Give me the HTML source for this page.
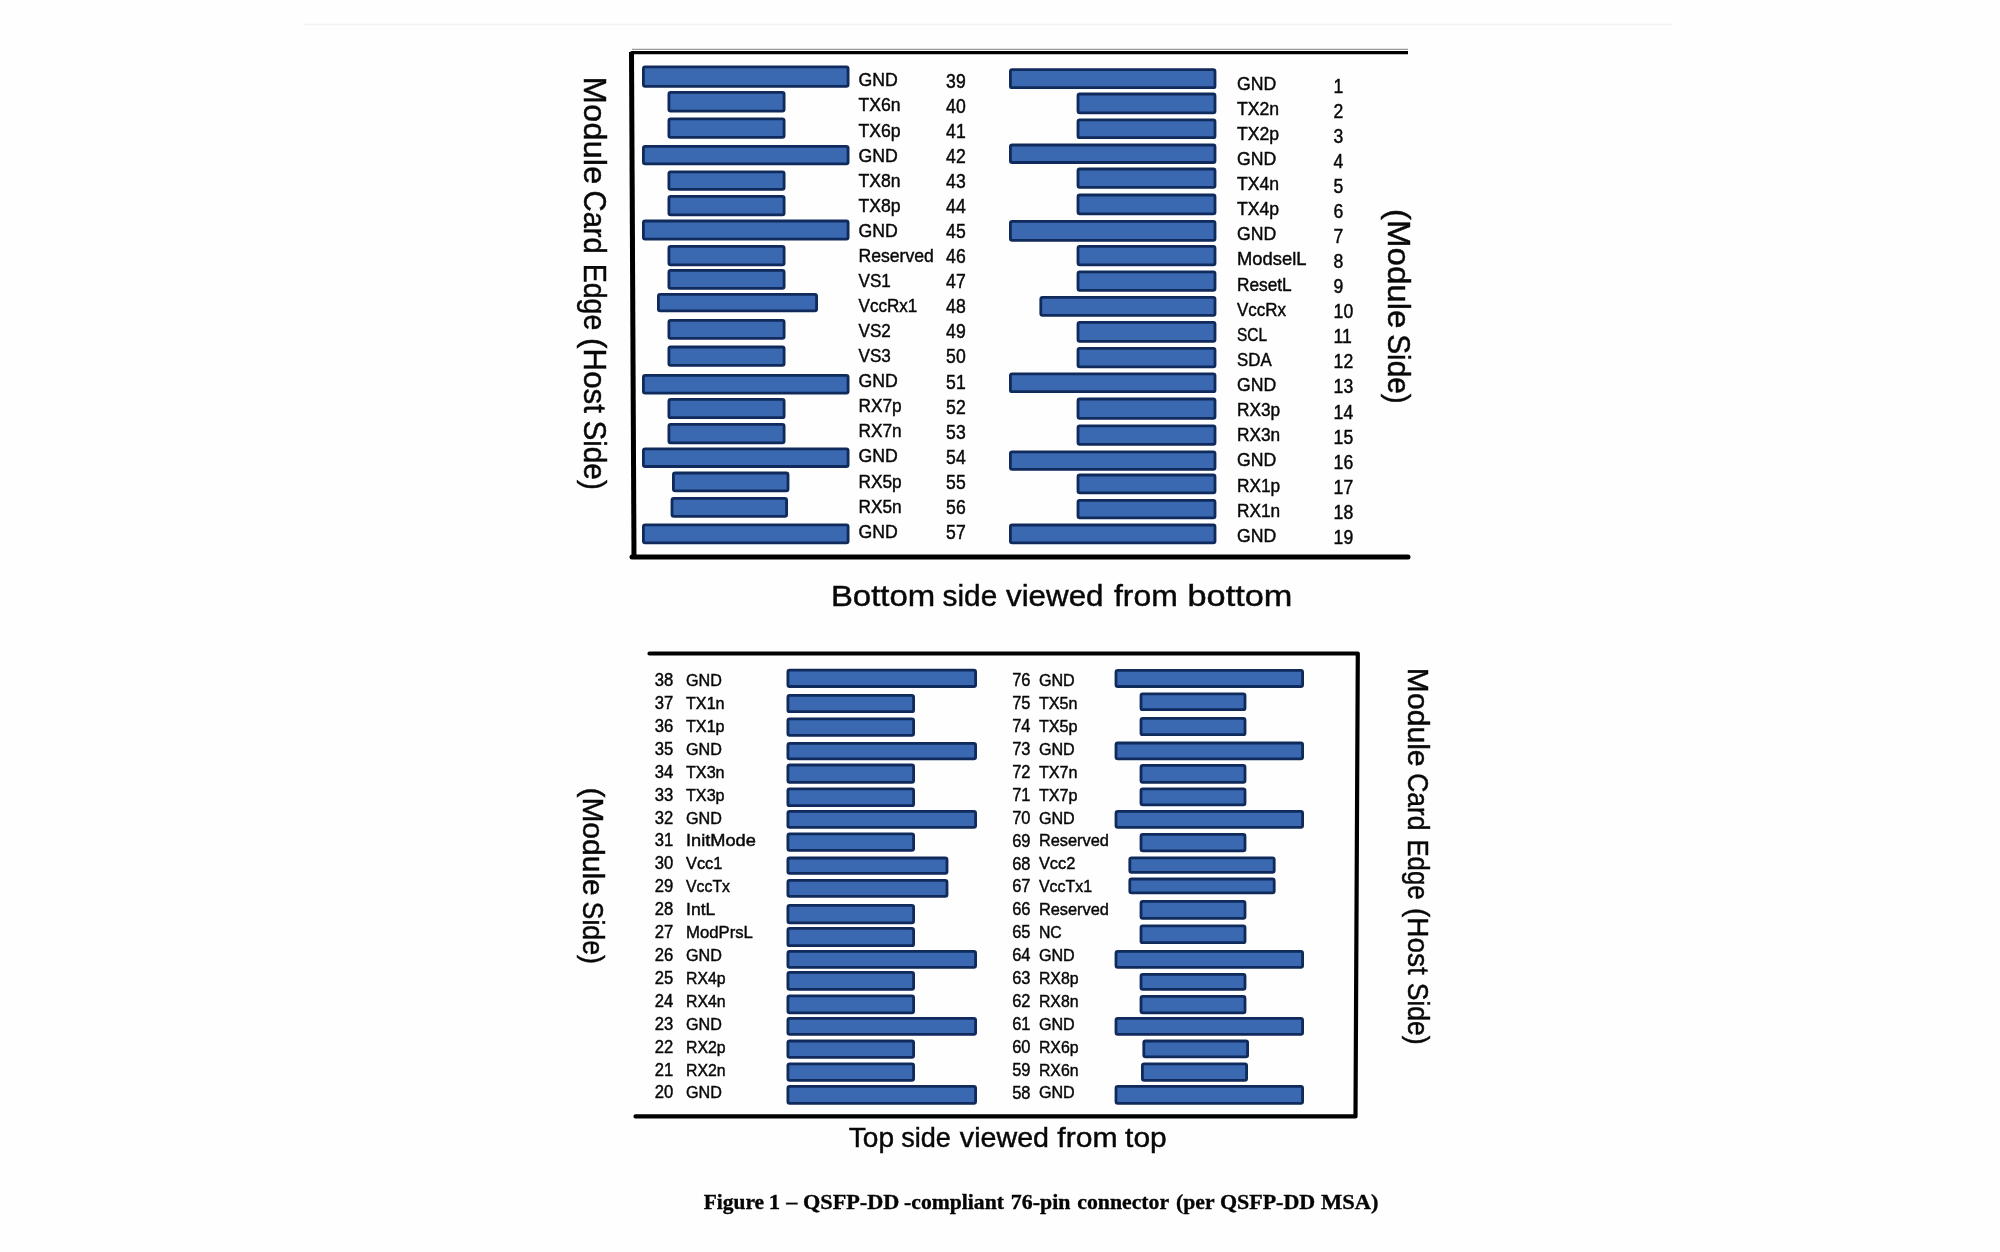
<!DOCTYPE html>
<html><head><meta charset="utf-8"><title>QSFP-DD connector</title>
<style>
html,body{margin:0;padding:0;background:#fefefe;}
body{width:2000px;height:1252px;overflow:hidden;}
svg{display:block;filter:blur(0.45px);}
.t{font-family:"Liberation Sans",sans-serif;fill:#080808;stroke:#080808;stroke-width:0.45px;}
.cap{font-family:"Liberation Serif",serif;font-weight:bold;fill:#050505;stroke:#050505;stroke-width:0.35px;}
.b{fill:#3a69b2;stroke:#0f2a5b;stroke-width:2.8;}
</style></head>
<body>
<svg width="2000" height="1252" viewBox="0 0 2000 1252">
<rect x="0" y="0" width="2000" height="1252" fill="#fefefe"/>
<line x1="304" y1="24.5" x2="1672" y2="24.5" stroke="#f4f4f4" stroke-width="1.5"/>
<rect x="643.4" y="66.9" width="204.7" height="19.4" rx="1.8" class="b"/>
<rect x="668.9" y="92.4" width="115.2" height="18.7" rx="1.8" class="b"/>
<rect x="668.9" y="118.8" width="115.2" height="18.5" rx="1.8" class="b"/>
<rect x="643.4" y="146.4" width="204.7" height="17.5" rx="1.8" class="b"/>
<rect x="668.9" y="171.8" width="115.2" height="17.5" rx="1.8" class="b"/>
<rect x="668.9" y="196.4" width="115.2" height="18.5" rx="1.8" class="b"/>
<rect x="643.4" y="221.0" width="204.7" height="18.1" rx="1.8" class="b"/>
<rect x="668.9" y="246.4" width="115.2" height="18.5" rx="1.8" class="b"/>
<rect x="668.9" y="270.4" width="115.2" height="17.9" rx="1.8" class="b"/>
<rect x="658.4" y="294.4" width="158.2" height="16.4" rx="1.8" class="b"/>
<rect x="668.9" y="320.4" width="115.2" height="17.9" rx="1.8" class="b"/>
<rect x="668.9" y="347.0" width="115.2" height="18.3" rx="1.8" class="b"/>
<rect x="643.4" y="375.4" width="204.7" height="17.7" rx="1.8" class="b"/>
<rect x="668.9" y="399.4" width="115.2" height="18.3" rx="1.8" class="b"/>
<rect x="668.9" y="424.4" width="115.2" height="18.5" rx="1.8" class="b"/>
<rect x="643.4" y="448.8" width="204.7" height="17.7" rx="1.8" class="b"/>
<rect x="673.4" y="473.0" width="114.6" height="17.9" rx="1.8" class="b"/>
<rect x="672.0" y="498.4" width="114.6" height="17.9" rx="1.8" class="b"/>
<rect x="643.4" y="524.9" width="204.7" height="17.9" rx="1.8" class="b"/>
<rect x="1010.4" y="69.6" width="204.6" height="18.1" rx="1.8" class="b"/>
<rect x="1078.0" y="94.0" width="137.0" height="18.9" rx="1.8" class="b"/>
<rect x="1078.0" y="119.8" width="137.0" height="17.9" rx="1.8" class="b"/>
<rect x="1010.4" y="145.0" width="204.6" height="17.5" rx="1.8" class="b"/>
<rect x="1078.0" y="169.0" width="137.0" height="18.3" rx="1.8" class="b"/>
<rect x="1078.0" y="195.0" width="137.0" height="18.9" rx="1.8" class="b"/>
<rect x="1010.4" y="221.4" width="204.6" height="18.9" rx="1.8" class="b"/>
<rect x="1078.0" y="246.4" width="137.0" height="18.5" rx="1.8" class="b"/>
<rect x="1078.0" y="271.8" width="137.0" height="18.5" rx="1.8" class="b"/>
<rect x="1040.8" y="297.4" width="174.2" height="17.9" rx="1.8" class="b"/>
<rect x="1078.0" y="322.4" width="137.0" height="18.9" rx="1.8" class="b"/>
<rect x="1078.0" y="348.4" width="137.0" height="18.5" rx="1.8" class="b"/>
<rect x="1010.4" y="373.8" width="204.6" height="17.9" rx="1.8" class="b"/>
<rect x="1078.0" y="399.0" width="137.0" height="19.3" rx="1.8" class="b"/>
<rect x="1078.0" y="425.8" width="137.0" height="18.5" rx="1.8" class="b"/>
<rect x="1010.4" y="451.8" width="204.6" height="17.5" rx="1.8" class="b"/>
<rect x="1078.0" y="475.0" width="137.0" height="17.9" rx="1.8" class="b"/>
<rect x="1078.0" y="500.4" width="137.0" height="17.5" rx="1.8" class="b"/>
<rect x="1010.4" y="525.0" width="204.6" height="17.9" rx="1.8" class="b"/>
<text x="858.50" y="86.40" class="t" font-size="19.0" textLength="39.29" lengthAdjust="spacingAndGlyphs">GND</text>
<text x="946.10" y="87.70" class="t" font-size="19.5" textLength="19.61" lengthAdjust="spacingAndGlyphs">39</text>
<text x="858.50" y="111.47" class="t" font-size="19.0" textLength="42.14" lengthAdjust="spacingAndGlyphs">TX6n</text>
<text x="946.10" y="112.77" class="t" font-size="19.5" textLength="19.61" lengthAdjust="spacingAndGlyphs">40</text>
<text x="858.50" y="136.54" class="t" font-size="19.0" textLength="42.14" lengthAdjust="spacingAndGlyphs">TX6p</text>
<text x="946.10" y="137.84" class="t" font-size="19.5" textLength="19.61" lengthAdjust="spacingAndGlyphs">41</text>
<text x="858.50" y="161.61" class="t" font-size="19.0" textLength="39.29" lengthAdjust="spacingAndGlyphs">GND</text>
<text x="946.10" y="162.91" class="t" font-size="19.5" textLength="19.61" lengthAdjust="spacingAndGlyphs">42</text>
<text x="858.50" y="186.68" class="t" font-size="19.0" textLength="42.14" lengthAdjust="spacingAndGlyphs">TX8n</text>
<text x="946.10" y="187.98" class="t" font-size="19.5" textLength="19.61" lengthAdjust="spacingAndGlyphs">43</text>
<text x="858.50" y="211.75" class="t" font-size="19.0" textLength="42.14" lengthAdjust="spacingAndGlyphs">TX8p</text>
<text x="946.10" y="213.05" class="t" font-size="19.5" textLength="19.61" lengthAdjust="spacingAndGlyphs">44</text>
<text x="858.50" y="236.82" class="t" font-size="19.0" textLength="39.29" lengthAdjust="spacingAndGlyphs">GND</text>
<text x="946.10" y="238.12" class="t" font-size="19.5" textLength="19.61" lengthAdjust="spacingAndGlyphs">45</text>
<text x="858.50" y="261.89" class="t" font-size="19.0" textLength="75.40" lengthAdjust="spacingAndGlyphs">Reserved</text>
<text x="946.10" y="263.19" class="t" font-size="19.5" textLength="19.61" lengthAdjust="spacingAndGlyphs">46</text>
<text x="858.50" y="286.96" class="t" font-size="19.0" textLength="32.34" lengthAdjust="spacingAndGlyphs">VS1</text>
<text x="946.10" y="288.26" class="t" font-size="19.5" textLength="19.61" lengthAdjust="spacingAndGlyphs">47</text>
<text x="858.50" y="312.03" class="t" font-size="19.0" textLength="58.79" lengthAdjust="spacingAndGlyphs">VccRx1</text>
<text x="946.10" y="313.33" class="t" font-size="19.5" textLength="19.61" lengthAdjust="spacingAndGlyphs">48</text>
<text x="858.50" y="337.10" class="t" font-size="19.0" textLength="32.34" lengthAdjust="spacingAndGlyphs">VS2</text>
<text x="946.10" y="338.40" class="t" font-size="19.5" textLength="19.61" lengthAdjust="spacingAndGlyphs">49</text>
<text x="858.50" y="362.17" class="t" font-size="19.0" textLength="32.34" lengthAdjust="spacingAndGlyphs">VS3</text>
<text x="946.10" y="363.47" class="t" font-size="19.5" textLength="19.61" lengthAdjust="spacingAndGlyphs">50</text>
<text x="858.50" y="387.24" class="t" font-size="19.0" textLength="39.29" lengthAdjust="spacingAndGlyphs">GND</text>
<text x="946.10" y="388.54" class="t" font-size="19.5" textLength="19.61" lengthAdjust="spacingAndGlyphs">51</text>
<text x="858.50" y="412.31" class="t" font-size="19.0" textLength="43.23" lengthAdjust="spacingAndGlyphs">RX7p</text>
<text x="946.10" y="413.61" class="t" font-size="19.5" textLength="19.61" lengthAdjust="spacingAndGlyphs">52</text>
<text x="858.50" y="437.38" class="t" font-size="19.0" textLength="43.23" lengthAdjust="spacingAndGlyphs">RX7n</text>
<text x="946.10" y="438.68" class="t" font-size="19.5" textLength="19.61" lengthAdjust="spacingAndGlyphs">53</text>
<text x="858.50" y="462.45" class="t" font-size="19.0" textLength="39.29" lengthAdjust="spacingAndGlyphs">GND</text>
<text x="946.10" y="463.75" class="t" font-size="19.5" textLength="19.61" lengthAdjust="spacingAndGlyphs">54</text>
<text x="858.50" y="487.52" class="t" font-size="19.0" textLength="43.23" lengthAdjust="spacingAndGlyphs">RX5p</text>
<text x="946.10" y="488.82" class="t" font-size="19.5" textLength="19.61" lengthAdjust="spacingAndGlyphs">55</text>
<text x="858.50" y="512.59" class="t" font-size="19.0" textLength="43.23" lengthAdjust="spacingAndGlyphs">RX5n</text>
<text x="946.10" y="513.89" class="t" font-size="19.5" textLength="19.61" lengthAdjust="spacingAndGlyphs">56</text>
<text x="858.50" y="537.66" class="t" font-size="19.0" textLength="39.29" lengthAdjust="spacingAndGlyphs">GND</text>
<text x="946.10" y="538.96" class="t" font-size="19.5" textLength="19.61" lengthAdjust="spacingAndGlyphs">57</text>
<text x="1237.00" y="89.50" class="t" font-size="19.0" textLength="39.29" lengthAdjust="spacingAndGlyphs">GND</text>
<text x="1333.60" y="92.65" class="t" font-size="19.5" textLength="9.80" lengthAdjust="spacingAndGlyphs">1</text>
<text x="1237.00" y="114.62" class="t" font-size="19.0" textLength="42.14" lengthAdjust="spacingAndGlyphs">TX2n</text>
<text x="1333.60" y="117.72" class="t" font-size="19.5" textLength="9.80" lengthAdjust="spacingAndGlyphs">2</text>
<text x="1237.00" y="139.75" class="t" font-size="19.0" textLength="42.14" lengthAdjust="spacingAndGlyphs">TX2p</text>
<text x="1333.60" y="142.79" class="t" font-size="19.5" textLength="9.80" lengthAdjust="spacingAndGlyphs">3</text>
<text x="1237.00" y="164.88" class="t" font-size="19.0" textLength="39.29" lengthAdjust="spacingAndGlyphs">GND</text>
<text x="1333.60" y="167.86" class="t" font-size="19.5" textLength="9.80" lengthAdjust="spacingAndGlyphs">4</text>
<text x="1237.00" y="190.00" class="t" font-size="19.0" textLength="42.14" lengthAdjust="spacingAndGlyphs">TX4n</text>
<text x="1333.60" y="192.93" class="t" font-size="19.5" textLength="9.80" lengthAdjust="spacingAndGlyphs">5</text>
<text x="1237.00" y="215.12" class="t" font-size="19.0" textLength="42.14" lengthAdjust="spacingAndGlyphs">TX4p</text>
<text x="1333.60" y="218.00" class="t" font-size="19.5" textLength="9.80" lengthAdjust="spacingAndGlyphs">6</text>
<text x="1237.00" y="240.25" class="t" font-size="19.0" textLength="39.29" lengthAdjust="spacingAndGlyphs">GND</text>
<text x="1333.60" y="243.07" class="t" font-size="19.5" textLength="9.80" lengthAdjust="spacingAndGlyphs">7</text>
<text x="1237.00" y="265.38" class="t" font-size="19.0" textLength="69.46" lengthAdjust="spacingAndGlyphs">ModselL</text>
<text x="1333.60" y="268.14" class="t" font-size="19.5" textLength="9.80" lengthAdjust="spacingAndGlyphs">8</text>
<text x="1237.00" y="290.50" class="t" font-size="19.0" textLength="54.69" lengthAdjust="spacingAndGlyphs">ResetL</text>
<text x="1333.60" y="293.21" class="t" font-size="19.5" textLength="9.80" lengthAdjust="spacingAndGlyphs">9</text>
<text x="1237.00" y="315.62" class="t" font-size="19.0" textLength="48.95" lengthAdjust="spacingAndGlyphs">VccRx</text>
<text x="1333.60" y="318.28" class="t" font-size="19.5" textLength="19.61" lengthAdjust="spacingAndGlyphs">10</text>
<text x="1237.00" y="340.75" class="t" font-size="19.0" textLength="30.00" lengthAdjust="spacingAndGlyphs">SCL</text>
<text x="1333.60" y="343.35" class="t" font-size="19.5" textLength="18.30" lengthAdjust="spacingAndGlyphs">11</text>
<text x="1237.00" y="365.88" class="t" font-size="19.0" textLength="34.66" lengthAdjust="spacingAndGlyphs">SDA</text>
<text x="1333.60" y="368.42" class="t" font-size="19.5" textLength="19.61" lengthAdjust="spacingAndGlyphs">12</text>
<text x="1237.00" y="391.00" class="t" font-size="19.0" textLength="39.29" lengthAdjust="spacingAndGlyphs">GND</text>
<text x="1333.60" y="393.49" class="t" font-size="19.5" textLength="19.61" lengthAdjust="spacingAndGlyphs">13</text>
<text x="1237.00" y="416.12" class="t" font-size="19.0" textLength="43.23" lengthAdjust="spacingAndGlyphs">RX3p</text>
<text x="1333.60" y="418.56" class="t" font-size="19.5" textLength="19.61" lengthAdjust="spacingAndGlyphs">14</text>
<text x="1237.00" y="441.25" class="t" font-size="19.0" textLength="43.23" lengthAdjust="spacingAndGlyphs">RX3n</text>
<text x="1333.60" y="443.63" class="t" font-size="19.5" textLength="19.61" lengthAdjust="spacingAndGlyphs">15</text>
<text x="1237.00" y="466.38" class="t" font-size="19.0" textLength="39.29" lengthAdjust="spacingAndGlyphs">GND</text>
<text x="1333.60" y="468.70" class="t" font-size="19.5" textLength="19.61" lengthAdjust="spacingAndGlyphs">16</text>
<text x="1237.00" y="491.50" class="t" font-size="19.0" textLength="43.23" lengthAdjust="spacingAndGlyphs">RX1p</text>
<text x="1333.60" y="493.77" class="t" font-size="19.5" textLength="19.61" lengthAdjust="spacingAndGlyphs">17</text>
<text x="1237.00" y="516.62" class="t" font-size="19.0" textLength="43.23" lengthAdjust="spacingAndGlyphs">RX1n</text>
<text x="1333.60" y="518.84" class="t" font-size="19.5" textLength="19.61" lengthAdjust="spacingAndGlyphs">18</text>
<text x="1237.00" y="541.75" class="t" font-size="19.0" textLength="39.29" lengthAdjust="spacingAndGlyphs">GND</text>
<text x="1333.60" y="543.91" class="t" font-size="19.5" textLength="19.61" lengthAdjust="spacingAndGlyphs">19</text>
<text x="76.60" y="0" transform="translate(584.20,0) rotate(90)" class="t" font-size="32" textLength="107.59" lengthAdjust="spacingAndGlyphs">Module</text>
<text x="190.60" y="0" transform="translate(584.20,0) rotate(90)" class="t" font-size="32" textLength="63.19" lengthAdjust="spacingAndGlyphs">Card</text>
<text x="263.80" y="0" transform="translate(584.20,0) rotate(90)" class="t" font-size="32" textLength="66.41" lengthAdjust="spacingAndGlyphs">Edge</text>
<text x="338.00" y="0" transform="translate(584.20,0) rotate(90)" class="t" font-size="32" textLength="75.01" lengthAdjust="spacingAndGlyphs">(Host</text>
<text x="420.40" y="0" transform="translate(584.20,0) rotate(90)" class="t" font-size="32" textLength="69.39" lengthAdjust="spacingAndGlyphs">Side)</text>
<text x="209.00" y="0" transform="translate(1388.00,0) rotate(90)" class="t" font-size="31.5" textLength="119.39" lengthAdjust="spacingAndGlyphs">(Module</text>
<text x="334.20" y="0" transform="translate(1388.00,0) rotate(90)" class="t" font-size="31.5" textLength="69.59" lengthAdjust="spacingAndGlyphs">Side)</text>
<line x1="632" y1="49.3" x2="1408" y2="49.3" stroke="#9a9a9a" stroke-width="1.2"/>
<path d="M1408,52.6 L631.8,52.6 L634,556.8 L1408,556.8" fill="none" stroke="#000" stroke-width="3.4" stroke-linejoin="round"/>
<line x1="631.5" y1="52" x2="634" y2="558" stroke="#000" stroke-width="5"/>
<line x1="632" y1="557" x2="1408" y2="557" stroke="#000" stroke-width="5" stroke-linecap="round"/>
<text x="830.90" y="606.40" class="t" font-size="29.8" textLength="104.30" lengthAdjust="spacingAndGlyphs">Bottom</text>
<text x="942.60" y="606.40" class="t" font-size="29.8" textLength="54.61" lengthAdjust="spacingAndGlyphs">side</text>
<text x="1006.00" y="606.40" class="t" font-size="29.8" textLength="97.49" lengthAdjust="spacingAndGlyphs">viewed</text>
<text x="1114.00" y="606.40" class="t" font-size="29.8" textLength="63.70" lengthAdjust="spacingAndGlyphs">from</text>
<text x="1187.50" y="606.40" class="t" font-size="29.8" textLength="104.90" lengthAdjust="spacingAndGlyphs">bottom</text>
<rect x="787.9" y="670.2" width="187.7" height="16.3" rx="1.8" class="b"/>
<rect x="787.9" y="695.4" width="125.7" height="16.3" rx="1.8" class="b"/>
<rect x="787.9" y="718.8" width="125.7" height="16.5" rx="1.8" class="b"/>
<rect x="787.9" y="743.4" width="187.7" height="15.5" rx="1.8" class="b"/>
<rect x="787.9" y="765.0" width="125.7" height="17.3" rx="1.8" class="b"/>
<rect x="787.9" y="788.8" width="125.7" height="16.9" rx="1.8" class="b"/>
<rect x="787.9" y="811.4" width="187.7" height="15.9" rx="1.8" class="b"/>
<rect x="787.9" y="833.8" width="125.7" height="16.5" rx="1.8" class="b"/>
<rect x="787.9" y="858.0" width="159.1" height="15.3" rx="1.8" class="b"/>
<rect x="787.9" y="880.4" width="159.1" height="15.9" rx="1.8" class="b"/>
<rect x="787.9" y="905.4" width="125.7" height="17.5" rx="1.8" class="b"/>
<rect x="787.9" y="928.4" width="125.7" height="17.3" rx="1.8" class="b"/>
<rect x="787.9" y="951.4" width="187.7" height="15.9" rx="1.8" class="b"/>
<rect x="787.9" y="972.4" width="125.7" height="16.9" rx="1.8" class="b"/>
<rect x="787.9" y="995.8" width="125.7" height="17.1" rx="1.8" class="b"/>
<rect x="787.9" y="1018.4" width="187.7" height="15.9" rx="1.8" class="b"/>
<rect x="787.9" y="1041.0" width="125.7" height="16.3" rx="1.8" class="b"/>
<rect x="787.9" y="1063.8" width="125.7" height="16.5" rx="1.8" class="b"/>
<rect x="787.9" y="1086.4" width="187.7" height="16.9" rx="1.8" class="b"/>
<rect x="1116.0" y="670.3" width="186.6" height="16.2" rx="1.8" class="b"/>
<rect x="1141.0" y="693.8" width="104.0" height="15.9" rx="1.8" class="b"/>
<rect x="1141.0" y="718.4" width="104.0" height="16.3" rx="1.8" class="b"/>
<rect x="1116.0" y="743.0" width="186.6" height="15.9" rx="1.8" class="b"/>
<rect x="1141.0" y="765.4" width="104.0" height="16.9" rx="1.8" class="b"/>
<rect x="1141.0" y="788.8" width="104.0" height="16.1" rx="1.8" class="b"/>
<rect x="1116.0" y="811.4" width="186.6" height="15.9" rx="1.8" class="b"/>
<rect x="1141.0" y="834.4" width="104.0" height="16.5" rx="1.8" class="b"/>
<rect x="1129.8" y="857.8" width="144.4" height="14.5" rx="1.8" class="b"/>
<rect x="1129.8" y="879.0" width="144.4" height="13.9" rx="1.8" class="b"/>
<rect x="1141.0" y="901.4" width="104.0" height="16.9" rx="1.8" class="b"/>
<rect x="1141.0" y="925.8" width="104.0" height="16.9" rx="1.8" class="b"/>
<rect x="1116.0" y="951.4" width="186.6" height="15.9" rx="1.8" class="b"/>
<rect x="1141.0" y="974.4" width="104.0" height="14.9" rx="1.8" class="b"/>
<rect x="1141.0" y="996.4" width="104.0" height="16.5" rx="1.8" class="b"/>
<rect x="1116.0" y="1018.4" width="186.6" height="15.9" rx="1.8" class="b"/>
<rect x="1143.8" y="1041.0" width="103.8" height="15.9" rx="1.8" class="b"/>
<rect x="1142.4" y="1063.8" width="104.2" height="16.5" rx="1.8" class="b"/>
<rect x="1116.0" y="1086.4" width="186.6" height="16.9" rx="1.8" class="b"/>
<text x="654.75" y="686.10" class="t" font-size="18.2" textLength="18.51" lengthAdjust="spacingAndGlyphs">38</text>
<text x="686.00" y="686.10" class="t" font-size="17.3" textLength="35.90" lengthAdjust="spacingAndGlyphs">GND</text>
<text x="654.75" y="709.01" class="t" font-size="18.2" textLength="18.51" lengthAdjust="spacingAndGlyphs">37</text>
<text x="686.00" y="709.01" class="t" font-size="17.3" textLength="38.59" lengthAdjust="spacingAndGlyphs">TX1n</text>
<text x="654.75" y="731.92" class="t" font-size="18.2" textLength="18.51" lengthAdjust="spacingAndGlyphs">36</text>
<text x="686.00" y="731.92" class="t" font-size="17.3" textLength="38.59" lengthAdjust="spacingAndGlyphs">TX1p</text>
<text x="654.75" y="754.83" class="t" font-size="18.2" textLength="18.51" lengthAdjust="spacingAndGlyphs">35</text>
<text x="686.00" y="754.83" class="t" font-size="17.3" textLength="35.90" lengthAdjust="spacingAndGlyphs">GND</text>
<text x="654.75" y="777.74" class="t" font-size="18.2" textLength="18.51" lengthAdjust="spacingAndGlyphs">34</text>
<text x="686.00" y="777.74" class="t" font-size="17.3" textLength="38.59" lengthAdjust="spacingAndGlyphs">TX3n</text>
<text x="654.75" y="800.65" class="t" font-size="18.2" textLength="18.51" lengthAdjust="spacingAndGlyphs">33</text>
<text x="686.00" y="800.65" class="t" font-size="17.3" textLength="38.59" lengthAdjust="spacingAndGlyphs">TX3p</text>
<text x="654.75" y="823.56" class="t" font-size="18.2" textLength="18.51" lengthAdjust="spacingAndGlyphs">32</text>
<text x="686.00" y="823.56" class="t" font-size="17.3" textLength="35.90" lengthAdjust="spacingAndGlyphs">GND</text>
<text x="654.75" y="846.47" class="t" font-size="18.2" textLength="18.51" lengthAdjust="spacingAndGlyphs">31</text>
<text x="686.00" y="846.47" class="t" font-size="17.3" textLength="69.91" lengthAdjust="spacingAndGlyphs">InitMode</text>
<text x="654.75" y="869.38" class="t" font-size="18.2" textLength="18.51" lengthAdjust="spacingAndGlyphs">30</text>
<text x="686.00" y="869.38" class="t" font-size="17.3" textLength="36.41" lengthAdjust="spacingAndGlyphs">Vcc1</text>
<text x="654.75" y="892.29" class="t" font-size="18.2" textLength="18.51" lengthAdjust="spacingAndGlyphs">29</text>
<text x="686.00" y="892.29" class="t" font-size="17.3" textLength="43.99" lengthAdjust="spacingAndGlyphs">VccTx</text>
<text x="654.75" y="915.20" class="t" font-size="18.2" textLength="18.51" lengthAdjust="spacingAndGlyphs">28</text>
<text x="686.00" y="915.20" class="t" font-size="17.3" textLength="29.31" lengthAdjust="spacingAndGlyphs">IntL</text>
<text x="654.75" y="938.11" class="t" font-size="18.2" textLength="18.51" lengthAdjust="spacingAndGlyphs">27</text>
<text x="686.00" y="938.11" class="t" font-size="17.3" textLength="66.92" lengthAdjust="spacingAndGlyphs">ModPrsL</text>
<text x="654.75" y="961.02" class="t" font-size="18.2" textLength="18.51" lengthAdjust="spacingAndGlyphs">26</text>
<text x="686.00" y="961.02" class="t" font-size="17.3" textLength="35.90" lengthAdjust="spacingAndGlyphs">GND</text>
<text x="654.75" y="983.93" class="t" font-size="18.2" textLength="18.51" lengthAdjust="spacingAndGlyphs">25</text>
<text x="686.00" y="983.93" class="t" font-size="17.3" textLength="39.62" lengthAdjust="spacingAndGlyphs">RX4p</text>
<text x="654.75" y="1006.84" class="t" font-size="18.2" textLength="18.51" lengthAdjust="spacingAndGlyphs">24</text>
<text x="686.00" y="1006.84" class="t" font-size="17.3" textLength="39.62" lengthAdjust="spacingAndGlyphs">RX4n</text>
<text x="654.75" y="1029.75" class="t" font-size="18.2" textLength="18.51" lengthAdjust="spacingAndGlyphs">23</text>
<text x="686.00" y="1029.75" class="t" font-size="17.3" textLength="35.90" lengthAdjust="spacingAndGlyphs">GND</text>
<text x="654.75" y="1052.66" class="t" font-size="18.2" textLength="18.51" lengthAdjust="spacingAndGlyphs">22</text>
<text x="686.00" y="1052.66" class="t" font-size="17.3" textLength="39.62" lengthAdjust="spacingAndGlyphs">RX2p</text>
<text x="654.75" y="1075.57" class="t" font-size="18.2" textLength="18.51" lengthAdjust="spacingAndGlyphs">21</text>
<text x="686.00" y="1075.57" class="t" font-size="17.3" textLength="39.62" lengthAdjust="spacingAndGlyphs">RX2n</text>
<text x="654.75" y="1098.48" class="t" font-size="18.2" textLength="18.51" lengthAdjust="spacingAndGlyphs">20</text>
<text x="686.00" y="1098.48" class="t" font-size="17.3" textLength="35.90" lengthAdjust="spacingAndGlyphs">GND</text>
<text x="1012.15" y="686.30" class="t" font-size="18.2" textLength="18.31" lengthAdjust="spacingAndGlyphs">76</text>
<text x="1038.90" y="686.10" class="t" font-size="17.3" textLength="35.90" lengthAdjust="spacingAndGlyphs">GND</text>
<text x="1012.15" y="709.21" class="t" font-size="18.2" textLength="18.31" lengthAdjust="spacingAndGlyphs">75</text>
<text x="1038.90" y="709.01" class="t" font-size="17.3" textLength="38.59" lengthAdjust="spacingAndGlyphs">TX5n</text>
<text x="1012.15" y="732.12" class="t" font-size="18.2" textLength="18.31" lengthAdjust="spacingAndGlyphs">74</text>
<text x="1038.90" y="731.92" class="t" font-size="17.3" textLength="38.59" lengthAdjust="spacingAndGlyphs">TX5p</text>
<text x="1012.15" y="755.03" class="t" font-size="18.2" textLength="18.31" lengthAdjust="spacingAndGlyphs">73</text>
<text x="1038.90" y="754.83" class="t" font-size="17.3" textLength="35.90" lengthAdjust="spacingAndGlyphs">GND</text>
<text x="1012.15" y="777.94" class="t" font-size="18.2" textLength="18.31" lengthAdjust="spacingAndGlyphs">72</text>
<text x="1038.90" y="777.74" class="t" font-size="17.3" textLength="38.59" lengthAdjust="spacingAndGlyphs">TX7n</text>
<text x="1012.15" y="800.85" class="t" font-size="18.2" textLength="18.31" lengthAdjust="spacingAndGlyphs">71</text>
<text x="1038.90" y="800.65" class="t" font-size="17.3" textLength="38.59" lengthAdjust="spacingAndGlyphs">TX7p</text>
<text x="1012.15" y="823.76" class="t" font-size="18.2" textLength="18.31" lengthAdjust="spacingAndGlyphs">70</text>
<text x="1038.90" y="823.56" class="t" font-size="17.3" textLength="35.90" lengthAdjust="spacingAndGlyphs">GND</text>
<text x="1012.15" y="846.67" class="t" font-size="18.2" textLength="18.31" lengthAdjust="spacingAndGlyphs">69</text>
<text x="1038.90" y="846.47" class="t" font-size="17.3" textLength="70.00" lengthAdjust="spacingAndGlyphs">Reserved</text>
<text x="1012.15" y="869.58" class="t" font-size="18.2" textLength="18.31" lengthAdjust="spacingAndGlyphs">68</text>
<text x="1038.90" y="869.38" class="t" font-size="17.3" textLength="36.41" lengthAdjust="spacingAndGlyphs">Vcc2</text>
<text x="1012.15" y="892.49" class="t" font-size="18.2" textLength="18.31" lengthAdjust="spacingAndGlyphs">67</text>
<text x="1038.90" y="892.29" class="t" font-size="17.3" textLength="53.28" lengthAdjust="spacingAndGlyphs">VccTx1</text>
<text x="1012.15" y="915.40" class="t" font-size="18.2" textLength="18.31" lengthAdjust="spacingAndGlyphs">66</text>
<text x="1038.90" y="915.20" class="t" font-size="17.3" textLength="70.00" lengthAdjust="spacingAndGlyphs">Reserved</text>
<text x="1012.15" y="938.31" class="t" font-size="18.2" textLength="18.31" lengthAdjust="spacingAndGlyphs">65</text>
<text x="1038.90" y="938.11" class="t" font-size="17.3" textLength="22.83" lengthAdjust="spacingAndGlyphs">NC</text>
<text x="1012.15" y="961.22" class="t" font-size="18.2" textLength="18.31" lengthAdjust="spacingAndGlyphs">64</text>
<text x="1038.90" y="961.02" class="t" font-size="17.3" textLength="35.90" lengthAdjust="spacingAndGlyphs">GND</text>
<text x="1012.15" y="984.13" class="t" font-size="18.2" textLength="18.31" lengthAdjust="spacingAndGlyphs">63</text>
<text x="1038.90" y="983.93" class="t" font-size="17.3" textLength="39.62" lengthAdjust="spacingAndGlyphs">RX8p</text>
<text x="1012.15" y="1007.04" class="t" font-size="18.2" textLength="18.31" lengthAdjust="spacingAndGlyphs">62</text>
<text x="1038.90" y="1006.84" class="t" font-size="17.3" textLength="39.62" lengthAdjust="spacingAndGlyphs">RX8n</text>
<text x="1012.15" y="1029.95" class="t" font-size="18.2" textLength="18.31" lengthAdjust="spacingAndGlyphs">61</text>
<text x="1038.90" y="1029.75" class="t" font-size="17.3" textLength="35.90" lengthAdjust="spacingAndGlyphs">GND</text>
<text x="1012.15" y="1052.86" class="t" font-size="18.2" textLength="18.31" lengthAdjust="spacingAndGlyphs">60</text>
<text x="1038.90" y="1052.66" class="t" font-size="17.3" textLength="39.62" lengthAdjust="spacingAndGlyphs">RX6p</text>
<text x="1012.15" y="1075.77" class="t" font-size="18.2" textLength="18.31" lengthAdjust="spacingAndGlyphs">59</text>
<text x="1038.90" y="1075.57" class="t" font-size="17.3" textLength="39.62" lengthAdjust="spacingAndGlyphs">RX6n</text>
<text x="1012.15" y="1098.68" class="t" font-size="18.2" textLength="18.31" lengthAdjust="spacingAndGlyphs">58</text>
<text x="1038.90" y="1098.48" class="t" font-size="17.3" textLength="35.90" lengthAdjust="spacingAndGlyphs">GND</text>
<text x="787.40" y="0" transform="translate(582.80,0) rotate(90)" class="t" font-size="29.5" textLength="108.39" lengthAdjust="spacingAndGlyphs">(Module</text>
<text x="901.60" y="0" transform="translate(582.80,0) rotate(90)" class="t" font-size="29.5" textLength="62.39" lengthAdjust="spacingAndGlyphs">Side)</text>
<text x="667.80" y="0" transform="translate(1407.60,0) rotate(90)" class="t" font-size="29.5" textLength="98.79" lengthAdjust="spacingAndGlyphs">Module</text>
<text x="773.20" y="0" transform="translate(1407.60,0) rotate(90)" class="t" font-size="29.5" textLength="57.39" lengthAdjust="spacingAndGlyphs">Card</text>
<text x="839.40" y="0" transform="translate(1407.60,0) rotate(90)" class="t" font-size="29.5" textLength="60.21" lengthAdjust="spacingAndGlyphs">Edge</text>
<text x="908.00" y="0" transform="translate(1407.60,0) rotate(90)" class="t" font-size="29.5" textLength="66.80" lengthAdjust="spacingAndGlyphs">(Host</text>
<text x="982.80" y="0" transform="translate(1407.60,0) rotate(90)" class="t" font-size="29.5" textLength="61.79" lengthAdjust="spacingAndGlyphs">Side)</text>
<path d="M649.5,653.5 L1357.8,653.5 L1355.5,1116.4 L635.5,1116.4" fill="none" stroke="#000" stroke-width="4.2" stroke-linejoin="round" stroke-linecap="round"/>
<text x="848.80" y="1147.40" class="t" font-size="27.5" textLength="45.21" lengthAdjust="spacingAndGlyphs">Top</text>
<text x="901.20" y="1147.40" class="t" font-size="27.5" textLength="49.71" lengthAdjust="spacingAndGlyphs">side</text>
<text x="959.85" y="1147.40" class="t" font-size="27.5" textLength="89.14" lengthAdjust="spacingAndGlyphs">viewed</text>
<text x="1057.30" y="1147.40" class="t" font-size="27.5" textLength="60.20" lengthAdjust="spacingAndGlyphs">from</text>
<text x="1125.10" y="1147.40" class="t" font-size="27.5" textLength="41.60" lengthAdjust="spacingAndGlyphs">top</text>
<text x="703.75" y="1209.20" class="cap" font-size="21.6" textLength="60.36" lengthAdjust="spacingAndGlyphs">Figure</text>
<text x="768.80" y="1209.20" class="cap" font-size="21.6" textLength="11.40" lengthAdjust="spacingAndGlyphs">1</text>
<text x="786.16" y="1209.20" class="cap" font-size="21.6" textLength="11.09" lengthAdjust="spacingAndGlyphs">–</text>
<text x="803.00" y="1209.20" class="cap" font-size="21.6" textLength="96.40" lengthAdjust="spacingAndGlyphs">QSFP-DD</text>
<text x="904.10" y="1209.20" class="cap" font-size="21.6" textLength="99.80" lengthAdjust="spacingAndGlyphs">-compliant</text>
<text x="1010.80" y="1209.20" class="cap" font-size="21.6" textLength="59.60" lengthAdjust="spacingAndGlyphs">76-pin</text>
<text x="1077.25" y="1209.20" class="cap" font-size="21.6" textLength="91.84" lengthAdjust="spacingAndGlyphs">connector</text>
<text x="1176.10" y="1209.20" class="cap" font-size="21.6" textLength="38.50" lengthAdjust="spacingAndGlyphs">(per</text>
<text x="1219.90" y="1209.20" class="cap" font-size="21.6" textLength="95.30" lengthAdjust="spacingAndGlyphs">QSFP-DD</text>
<text x="1321.00" y="1209.20" class="cap" font-size="21.6" textLength="57.40" lengthAdjust="spacingAndGlyphs">MSA)</text>
</svg>
</body></html>
